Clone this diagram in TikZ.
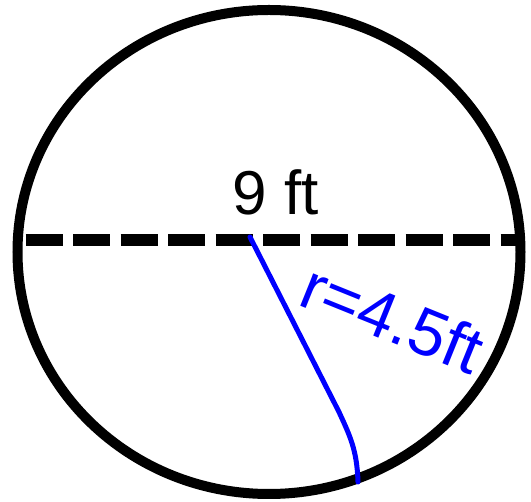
\documentclass[tikz,border=0pt]{standalone}
\usepackage{fontspec}
\setmainfont{Liberation Sans}
\begin{document}
\begin{tikzpicture}[x=1pt,y=-1pt,
  rim/.style={draw=black,line width=10pt},
  diam/.style={draw=black,line width=12pt,dash pattern=on 37pt off 10.5pt},
  radius line/.style={draw=blue,line width=5pt,line cap=round,line join=round},
  lab/.style={font=\fontsize{62}{62}\selectfont,text=black,inner sep=0pt},
  hand/.style={font=\fontsize{66}{66}\selectfont,text=blue,inner sep=0pt}]
\useasboundingbox (0,0) rectangle (531,502);
\coordinate (dl) at (25.6,240.5);
\coordinate (dr) at (524,240.5);
\coordinate (c) at (250,237);
\coordinate (m) at (339,412);
\coordinate (e) at (358,482);
\draw[diam] (dl) -- (dr);
\draw[rim] (269,252) ellipse [x radius=251.5, y radius=242];
\node[lab,anchor=base] (d) at (276,215) {9 ft};
\draw[radius line] (c) -- (m) .. controls (350,436) and (357,450) .. (e);
\node[hand,rotate=-22] (r) at (393,318) {r=4.5ft};
\end{tikzpicture}
\end{document}
